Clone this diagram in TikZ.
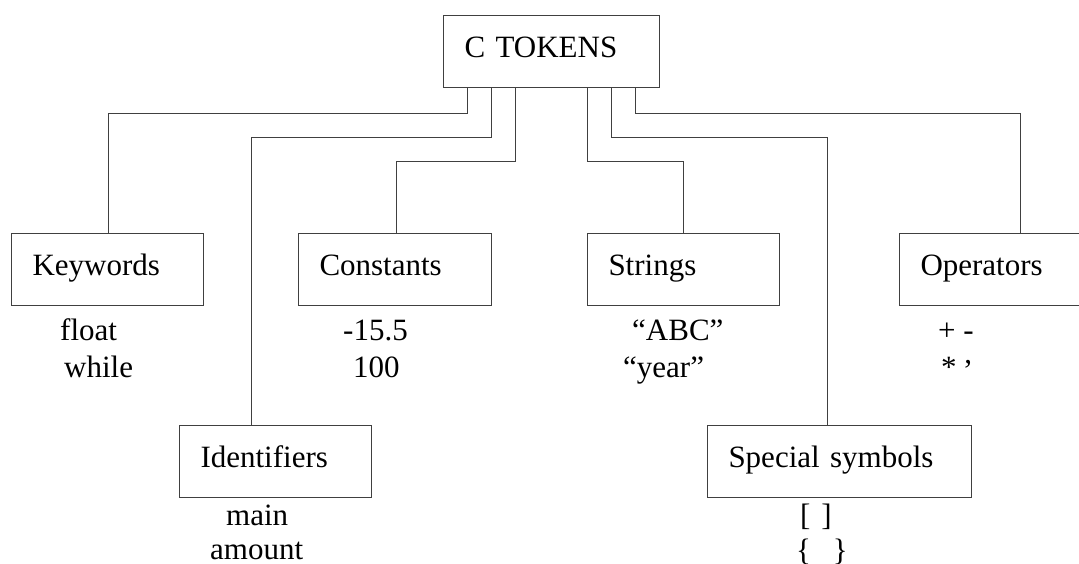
\documentclass[tikz,border=0pt]{standalone}
\usepackage{fontspec}
\setmainfont{Liberation Serif}
\begin{document}
\begin{tikzpicture}[x=1pt,y=-1pt,
  every node/.style={font=\fontsize{31}{37}\selectfont, inner sep=0pt},
  tokbox/.style={draw=black!75, line width=1pt, rectangle, anchor=north west,
    minimum height=72pt, text height=42pt, text depth=30pt,
    inner xsep=21pt, inner ysep=0pt, align=left},
  link/.style={draw=black!75, line width=1pt},
  sample/.style={anchor=base west}]
\useasboundingbox (0,0) rectangle (1079,564);
\clip (0,0) rectangle (1079,564);

% root and category boxes
\node[tokbox, minimum width=216pt, text width=174pt] (ct) at (443,15) {C TOKENS};
\node[tokbox, minimum width=192pt, text width=150pt] (kw) at (11,233) {Keywords};
\node[tokbox, minimum width=193pt, text width=151pt] (cn) at (298,233) {Constants};
\node[tokbox, minimum width=192pt, text width=150pt] (st) at (587,233) {Strings};
\node[tokbox, minimum width=242pt, text width=200pt] (op) at (899,233) {Operators};
\node[tokbox, minimum width=192pt, text width=150pt] (id) at (179,425) {Identifiers};
\node[tokbox, minimum width=264pt, text width=222pt] (sp) at (707,425) {Special symbols};

% connectors from the root
\draw[link] ([xshift=24pt]ct.south west) -- ++(0,26) -| ([xshift=97pt]kw.north west);
\draw[link] ([xshift=48pt]ct.south west) -- ++(0,50) -| ([xshift=72pt]id.north west);
\draw[link] ([xshift=72pt]ct.south west) -- ++(0,74) -| ([xshift=98pt]cn.north west);
\draw[link] ([xshift=144pt]ct.south west) -- ++(0,74) -| ([xshift=96pt]st.north west);
\draw[link] ([xshift=168pt]ct.south west) -- ++(0,50) -| ([xshift=120pt]sp.north west);
\draw[link] ([xshift=192pt]ct.south west) -- ++(0,26) -| ([xshift=121pt]op.north west);

% examples under each category
\node[sample] (kw1) at (60,340) {float};
\node[sample] (kw2) at (64,377) {while};
\node[sample] (cn1) at (343,340) {-15.5};
\node[sample] (cn2) at (353,377) {100};
\node[sample] (st1) at (632,340) {“ABC”};
\node[sample] (st2) at (623,377) {“year”};
\node[sample] (op1) at (938,340) {+ -};
\node[sample] (op2) at (941,377) {*~\raisebox{0.42em}[0pt][0pt]{,}};
\node[sample] (id1) at (226,525) {main};
\node[sample] (id2) at (210,559) {amount};
\node[sample] (sp1) at (800,525) {[\hspace{0.35em}]};
\node[sample] (sp2) at (796,560) {\{\hspace{0.7em}\}};
\end{tikzpicture}
\end{document}
